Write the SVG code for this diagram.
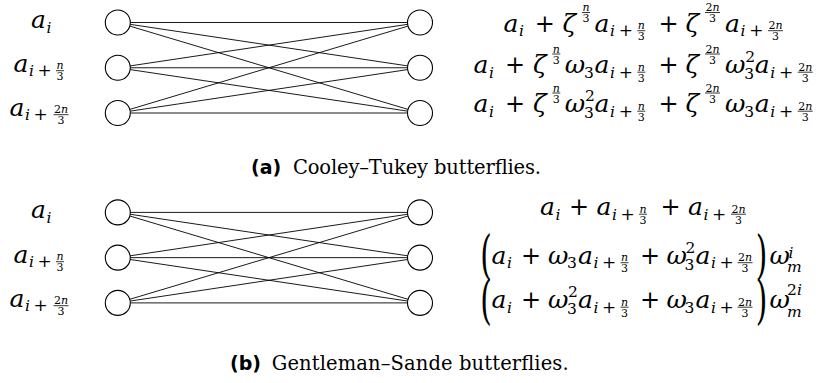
<svg xmlns="http://www.w3.org/2000/svg" width="818" height="383" viewBox="0 0 818 383">
<style>
.nd circle{fill:#fff;stroke:#000;stroke-width:1.1}
.cn line{stroke:#000;stroke-width:0.9}
text{font-family:'DejaVu Serif',serif;fill:#000}
.m{font-size:25px;font-style:italic}
.o{font-size:24px;text-anchor:middle}
.s{font-size:15.5px;font-style:italic}
.sd{font-size:15.5px;text-anchor:middle}
.so{font-size:17px;text-anchor:middle}
.f{font-size:11px;text-anchor:middle}
.fi{font-style:italic}
.fb{stroke:#000;stroke-width:0.8}
.p{font-size:52px;text-anchor:middle}
.cap{font-size:19.5px}
text.lab{font-family:'DejaVu Sans',sans-serif;font-weight:bold;font-size:19px}
</style>
<rect width="818" height="383" fill="#fff"/>

<g id="connectors" class="cn">
<line x1="130.3" y1="22.5" x2="407.5" y2="22.5"/>
<line x1="130.16" y1="24.35" x2="407.64" y2="65.9"/>
<line x1="129.77" y1="26.09" x2="408.03" y2="109.41"/>
<line x1="130.16" y1="65.9" x2="407.64" y2="24.35"/>
<line x1="130.3" y1="67.75" x2="407.5" y2="67.75"/>
<line x1="130.16" y1="69.6" x2="407.64" y2="111.15"/>
<line x1="129.77" y1="109.41" x2="408.03" y2="26.09"/>
<line x1="130.16" y1="111.15" x2="407.64" y2="69.6"/>
<line x1="130.3" y1="113" x2="407.5" y2="113"/>
<line x1="130.3" y1="212.4" x2="407.5" y2="212.4"/>
<line x1="130.16" y1="214.25" x2="407.64" y2="255.8"/>
<line x1="129.77" y1="215.99" x2="408.03" y2="299.31"/>
<line x1="130.16" y1="255.8" x2="407.64" y2="214.25"/>
<line x1="130.3" y1="257.65" x2="407.5" y2="257.65"/>
<line x1="130.16" y1="259.5" x2="407.64" y2="301.05"/>
<line x1="129.77" y1="299.31" x2="408.03" y2="215.99"/>
<line x1="130.16" y1="301.05" x2="407.64" y2="259.5"/>
<line x1="130.3" y1="302.9" x2="407.5" y2="302.9"/>
</g>

<g id="ct-in-0" class="nd">
<circle cx="117.8" cy="22.5" r="12.5"/>
<text class="m" x="31" y="28">a</text><text class="s" x="46.5" y="32.5">i</text>
</g>
<g id="ct-in-1" class="nd">
<circle cx="117.8" cy="67.75" r="12.5"/>
<text class="m" x="13.5" y="71.5">a</text><text class="s" x="29" y="76">i</text><text class="so" x="44.5" y="76">+</text>
<text class="f fi" x="60" y="69.2">n</text><line class="fb" x1="56" y1="70.7" x2="64" y2="70.7"/><text class="f" x="60" y="80.2">3</text>
</g>
<g id="ct-in-2" class="nd">
<circle cx="117.8" cy="113" r="12.5"/>
<text class="m" x="9.5" y="115.5">a</text><text class="s" x="25" y="120">i</text><text class="so" x="40.5" y="120">+</text>
<text class="f" x="61" y="113.2">2<tspan class="fi">n</tspan></text><line class="fb" x1="53.5" y1="114.7" x2="68.5" y2="114.7"/><text class="f" x="61" y="124.2">3</text>
</g>

<g id="ct-out-0" class="nd">
<circle cx="420" cy="22.5" r="12.5"/>
<text class="m" x="503.5" y="31.5">a</text><text class="s" x="519" y="36">i</text>
<text class="o" x="544.7" y="31.5">+</text>
<text class="m" x="562.5" y="31.5">ζ</text>
<text class="f fi" x="586" y="11">n</text><line class="fb" x1="582" y1="12.5" x2="590" y2="12.5"/><text class="f" x="586" y="22">3</text>
<text class="m" x="594.5" y="31.5">a</text><text class="s" x="610" y="36">i</text><text class="so" x="625.8" y="36">+</text>
<text class="f fi" x="641.3" y="29.2">n</text><line class="fb" x1="637.3" y1="30.7" x2="645.3" y2="30.7"/><text class="f" x="641.3" y="40.2">3</text>
<text class="o" x="668.5" y="31.5">+</text>
<text class="m" x="685.5" y="31.5">ζ</text>
<text class="f" x="712.5" y="11">2<tspan class="fi">n</tspan></text><line class="fb" x1="705" y1="12.5" x2="720" y2="12.5"/><text class="f" x="712.5" y="22">3</text>
<text class="m" x="725" y="31.5">a</text><text class="s" x="740.5" y="36">i</text><text class="so" x="756.3" y="36">+</text>
<text class="f" x="775.5" y="29.2">2<tspan class="fi">n</tspan></text><line class="fb" x1="768" y1="30.7" x2="783" y2="30.7"/><text class="f" x="775.5" y="40.2">3</text>
</g>
<g id="ct-out-1" class="nd">
<circle cx="420" cy="67.75" r="12.5"/>
<text class="m" x="473.6" y="73">a</text><text class="s" x="489.1" y="77.5">i</text>
<text class="o" x="515" y="73">+</text>
<text class="m" x="533" y="73">ζ</text>
<text class="f fi" x="556.3" y="52.5">n</text><line class="fb" x1="552.3" y1="54" x2="560.3" y2="54"/><text class="f" x="556.3" y="63.5">3</text>
<text class="m" x="564.8" y="73">ω</text><text class="sd" x="588.9" y="77.5">3</text>
<text class="m" x="594.5" y="73">a</text><text class="s" x="610" y="77.5">i</text><text class="so" x="625.8" y="77.5">+</text>
<text class="f fi" x="641.3" y="70.7">n</text><line class="fb" x1="637.3" y1="72.2" x2="645.3" y2="72.2"/><text class="f" x="641.3" y="81.7">3</text>
<text class="o" x="668.5" y="73">+</text>
<text class="m" x="685.5" y="73">ζ</text>
<text class="f" x="712.5" y="52.5">2<tspan class="fi">n</tspan></text><line class="fb" x1="705" y1="54" x2="720" y2="54"/><text class="f" x="712.5" y="63.5">3</text>
<text class="m" x="725" y="73">ω</text><text class="sd" x="750.1" y="62">2</text><text class="sd" x="749.1" y="79">3</text>
<text class="m" x="754.8" y="73">a</text><text class="s" x="770.3" y="77.5">i</text><text class="so" x="786" y="77.5">+</text>
<text class="f" x="805.2" y="70.7">2<tspan class="fi">n</tspan></text><line class="fb" x1="797.7" y1="72.2" x2="812.7" y2="72.2"/><text class="f" x="805.2" y="81.7">3</text>
</g>
<g id="ct-out-2" class="nd">
<circle cx="420" cy="113" r="12.5"/>
<text class="m" x="473.6" y="112">a</text><text class="s" x="489.1" y="116.5">i</text>
<text class="o" x="515" y="112">+</text>
<text class="m" x="533" y="112">ζ</text>
<text class="f fi" x="556.3" y="91.5">n</text><line class="fb" x1="552.3" y1="93" x2="560.3" y2="93"/><text class="f" x="556.3" y="102.5">3</text>
<text class="m" x="564.8" y="112">ω</text><text class="sd" x="589.9" y="101">2</text><text class="sd" x="588.9" y="118">3</text>
<text class="m" x="594.5" y="112">a</text><text class="s" x="610" y="116.5">i</text><text class="so" x="625.8" y="116.5">+</text>
<text class="f fi" x="641.3" y="109.7">n</text><line class="fb" x1="637.3" y1="111.2" x2="645.3" y2="111.2"/><text class="f" x="641.3" y="120.7">3</text>
<text class="o" x="668.5" y="112">+</text>
<text class="m" x="685.5" y="112">ζ</text>
<text class="f" x="712.5" y="91.5">2<tspan class="fi">n</tspan></text><line class="fb" x1="705" y1="93" x2="720" y2="93"/><text class="f" x="712.5" y="102.5">3</text>
<text class="m" x="725" y="112">ω</text><text class="sd" x="749.1" y="116.5">3</text>
<text class="m" x="754.8" y="112">a</text><text class="s" x="770.3" y="116.5">i</text><text class="so" x="786" y="116.5">+</text>
<text class="f" x="805.2" y="109.7">2<tspan class="fi">n</tspan></text><line class="fb" x1="797.7" y1="111.2" x2="812.7" y2="111.2"/><text class="f" x="805.2" y="120.7">3</text>
</g>

<text class="lab" x="251" y="174.3">(a)</text>
<text class="cap" x="293" y="174.3" textLength="248" lengthAdjust="spacing">Cooley–Tukey butterflies.</text>

<g id="gs-in-0" class="nd">
<circle cx="117.8" cy="212.4" r="12.5"/>
<text class="m" x="31" y="218">a</text><text class="s" x="46.5" y="222.5">i</text>
</g>
<g id="gs-in-1" class="nd">
<circle cx="117.8" cy="257.65" r="12.5"/>
<text class="m" x="13.5" y="262.5">a</text><text class="s" x="29" y="267">i</text><text class="so" x="44.5" y="267">+</text>
<text class="f fi" x="60" y="260.2">n</text><line class="fb" x1="56" y1="261.7" x2="64" y2="261.7"/><text class="f" x="60" y="271.2">3</text>
</g>
<g id="gs-in-2" class="nd">
<circle cx="117.8" cy="302.9" r="12.5"/>
<text class="m" x="9.5" y="306.5">a</text><text class="s" x="25" y="311">i</text><text class="so" x="40.5" y="311">+</text>
<text class="f" x="61" y="304.2">2<tspan class="fi">n</tspan></text><line class="fb" x1="53.5" y1="305.7" x2="68.5" y2="305.7"/><text class="f" x="61" y="315.2">3</text>
</g>

<g id="gs-out-0" class="nd">
<circle cx="420" cy="212.4" r="12.5"/>
<text class="m" x="540" y="215">a</text><text class="s" x="555.5" y="219.5">i</text>
<text class="o" x="579" y="215">+</text>
<text class="m" x="596.5" y="215">a</text><text class="s" x="612" y="219.5">i</text><text class="so" x="627.5" y="219.5">+</text>
<text class="f fi" x="643" y="212.7">n</text><line class="fb" x1="639" y1="214.2" x2="647" y2="214.2"/><text class="f" x="643" y="223.7">3</text>
<text class="o" x="670.5" y="215">+</text>
<text class="m" x="688" y="215">a</text><text class="s" x="703.5" y="219.5">i</text><text class="so" x="719" y="219.5">+</text>
<text class="f" x="738.5" y="212.7">2<tspan class="fi">n</tspan></text><line class="fb" x1="731" y1="214.2" x2="746" y2="214.2"/><text class="f" x="738.5" y="223.7">3</text>
</g>
<g id="gs-out-1" class="nd">
<circle cx="420" cy="257.65" r="12.5"/>
<text class="p" transform="translate(486,273.2) scale(0.57,1)">(</text>
<text class="m" x="491.5" y="263.5">a</text><text class="s" x="507" y="268">i</text>
<text class="o" x="531" y="263.5">+</text>
<text class="m" x="548" y="263.5">ω</text><text class="sd" x="572" y="268">3</text>
<text class="m" x="578" y="263.5">a</text><text class="s" x="593.5" y="268">i</text><text class="so" x="609" y="268">+</text>
<text class="f fi" x="624.5" y="261.2">n</text><line class="fb" x1="620.5" y1="262.7" x2="628.5" y2="262.7"/><text class="f" x="624.5" y="272.2">3</text>
<text class="o" x="650" y="263.5">+</text>
<text class="m" x="666.5" y="263.5">ω</text><text class="sd" x="690.5" y="252.5">2</text><text class="sd" x="689.5" y="269.5">3</text>
<text class="m" x="695.5" y="263.5">a</text><text class="s" x="711" y="268">i</text><text class="so" x="726.5" y="268">+</text>
<text class="f" x="745" y="261.2">2<tspan class="fi">n</tspan></text><line class="fb" x1="737.5" y1="262.7" x2="752.5" y2="262.7"/><text class="f" x="745" y="272.2">3</text>
<text class="p" transform="translate(761.5,273.2) scale(0.57,1)">)</text>
<text class="m" x="769.5" y="263.5">ω</text><text class="s" x="788.5" y="257.5">i</text><text class="s" x="787" y="271.8">m</text>
</g>
<g id="gs-out-2" class="nd">
<circle cx="420" cy="302.9" r="12.5"/>
<text class="p" transform="translate(486,318.2) scale(0.57,1)">(</text>
<text class="m" x="491.5" y="308">a</text><text class="s" x="507" y="312.5">i</text>
<text class="o" x="531" y="308">+</text>
<text class="m" x="548" y="308">ω</text><text class="sd" x="573" y="297">2</text><text class="sd" x="572" y="314">3</text>
<text class="m" x="578" y="308">a</text><text class="s" x="593.5" y="312.5">i</text><text class="so" x="609" y="312.5">+</text>
<text class="f fi" x="624.5" y="305.7">n</text><line class="fb" x1="620.5" y1="307.2" x2="628.5" y2="307.2"/><text class="f" x="624.5" y="316.7">3</text>
<text class="o" x="650" y="308">+</text>
<text class="m" x="666.5" y="308">ω</text><text class="sd" x="689.5" y="312.5">3</text>
<text class="m" x="695.5" y="308">a</text><text class="s" x="711" y="312.5">i</text><text class="so" x="726.5" y="312.5">+</text>
<text class="f" x="745" y="305.7">2<tspan class="fi">n</tspan></text><line class="fb" x1="737.5" y1="307.2" x2="752.5" y2="307.2"/><text class="f" x="745" y="316.7">3</text>
<text class="p" transform="translate(761.5,318.2) scale(0.57,1)">)</text>
<text class="m" x="769.5" y="308">ω</text><text class="s" x="787" y="295"><tspan font-style="normal">2</tspan>i</text><text class="s" x="787" y="316.5">m</text>
</g>

<text class="lab" x="230" y="370">(b)</text>
<text class="cap" x="271.7" y="370" textLength="297" lengthAdjust="spacing">Gentleman–Sande butterflies.</text>
</svg>
